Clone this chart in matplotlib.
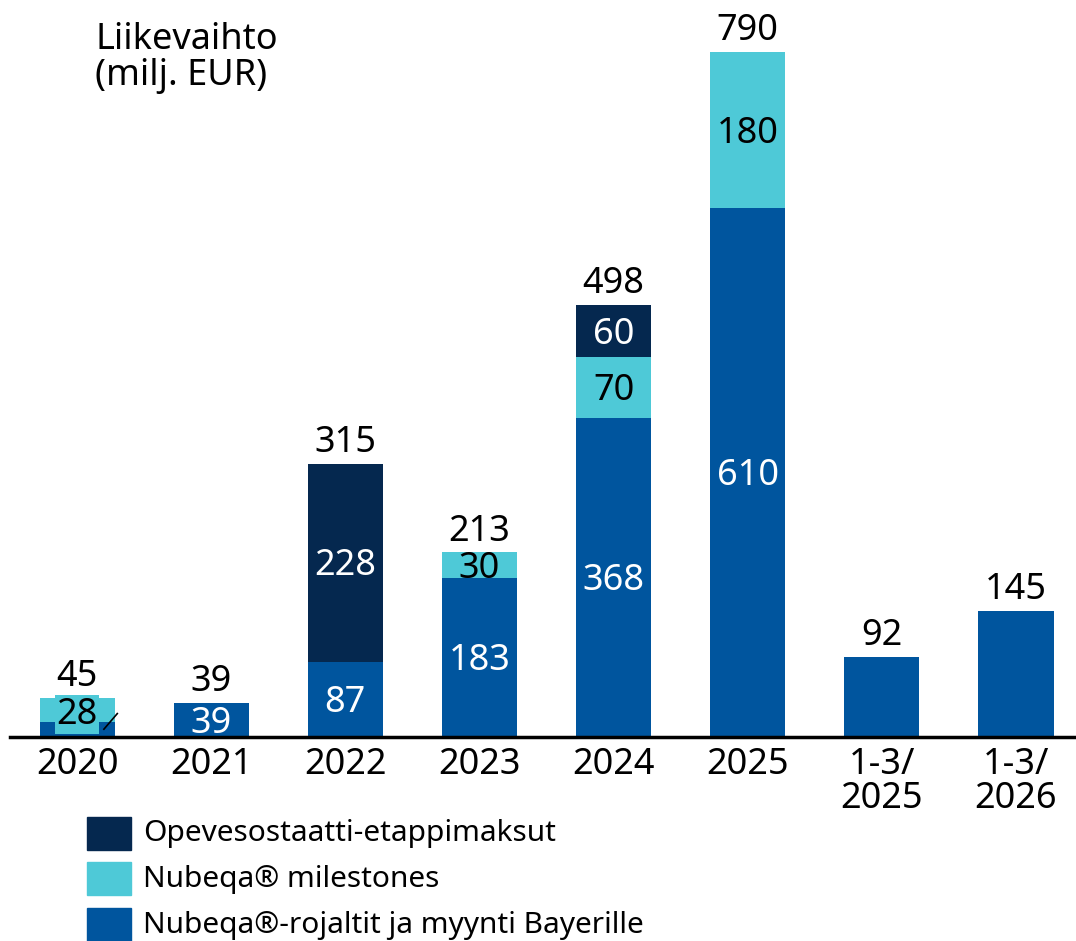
import matplotlib
matplotlib.use("Agg")
import matplotlib.pyplot as plt
from matplotlib.patches import Rectangle
from matplotlib.lines import Line2D

plt.rcParams['font.family'] = ['Noto Sans', 'DejaVu Sans']

categories = ["2020", "2021", "2022", "2023", "2024", "2025", "1-3/\n2025", "1-3/\n2026"]
royalties = [17, 39, 87, 183, 368, 610, 92, 145]
milestones = [28, 0, 0, 30, 70, 180, 0, 0]
opevesostat = [0, 0, 228, 0, 60, 0, 0, 0]
totals = [45, 39, 315, 213, 498, 790, 92, 145]
series_names = ["Opevesostaatti-etappimaksut", "Nubeqa® milestones",
                "Nubeqa®-rojaltit ja myynti Bayerille"]

C_DARK = "#05284f"
C_CYAN = "#4ec9d7"
C_BLUE = "#00559e"

W, H = 1076, 941
fig = plt.figure(figsize=(W / 100, H / 100), dpi=100)
ax = fig.add_axes([10 / W, (H - 737) / H, 1065 / W, 737 / H])

x = list(range(len(categories)))
bw = 0.56
FS = 26
DY = -2.5  # points


def inlabel(xx, yy, s, color, **kw):
    ax.annotate(s, (xx, yy), xytext=(0, DY), textcoords='offset points', ha='center',
                va='center', color=color, fontsize=FS, zorder=4, **kw)


ax.bar(x, royalties, bw, color=C_BLUE, zorder=2)
ax.bar(x, milestones, bw, bottom=royalties, color=C_CYAN, zorder=2)
bottom3 = [r + m for r, m in zip(royalties, milestones)]
ax.bar(x, opevesostat, bw, bottom=bottom3, color=C_DARK, zorder=2)

for i in range(len(x)):
    if i in (1, 2, 3, 4, 5) and royalties[i] > 0:
        inlabel(x[i], royalties[i] / 2, str(royalties[i]), 'white')
    if milestones[i] > 0:
        y = royalties[i] + milestones[i] / 2
        if i == 0:
            inlabel(x[i], y - 1.5, str(milestones[i]), 'black',
                    bbox=dict(boxstyle='square,pad=0.04', fc=C_CYAN, ec='none'))
        else:
            inlabel(x[i], y, str(milestones[i]), 'black')
    if opevesostat[i] > 0:
        inlabel(x[i], bottom3[i] + opevesostat[i] / 2, str(opevesostat[i]), 'white')

# leader line for 2020
ax.add_line(Line2D([x[0] + 0.2, x[0] + 0.3], [9, 27], color='black', lw=1.2, zorder=5))

# totals
for i in range(len(x)):
    ax.annotate(str(totals[i]), (x[i], totals[i]), xytext=(0, 2), textcoords='offset points',
                ha='center', va='bottom', fontsize=FS, color='black')

ax.set_xlim(-0.5, 7.44)
ax.set_ylim(0, 850)
ax.set_xticks(x)
ax.set_xticklabels(categories, fontsize=FS, linespacing=0.95)
ax.tick_params(axis='x', length=0, pad=7)
ax.set_yticks([])
for s in ['top', 'right', 'left']:
    ax.spines[s].set_visible(False)
ax.spines['bottom'].set_linewidth(2.5)
ax.spines['bottom'].set_color('black')
ax.patch.set_alpha(0)

fig.text(95 / W, 1 - 22 / H, "Liikevaihto\n(milj. EUR)", ha='left', va='top',
         fontsize=FS, linespacing=1.0)

# legend
leg_colors = [C_DARK, C_CYAN, C_BLUE]
row_y = [817, 862, 908]
for c, name, ry in zip(leg_colors, series_names, row_y):
    fig.patches.append(Rectangle((87 / W, 1 - (ry + 33) / H), 44 / W, 33 / H,
                                 transform=fig.transFigure, color=c))
    fig.text(143 / W, 1 - (ry + 17) / H, name, ha='left', va='center', fontsize=21.5)

fig.savefig("out.png", dpi=100)
